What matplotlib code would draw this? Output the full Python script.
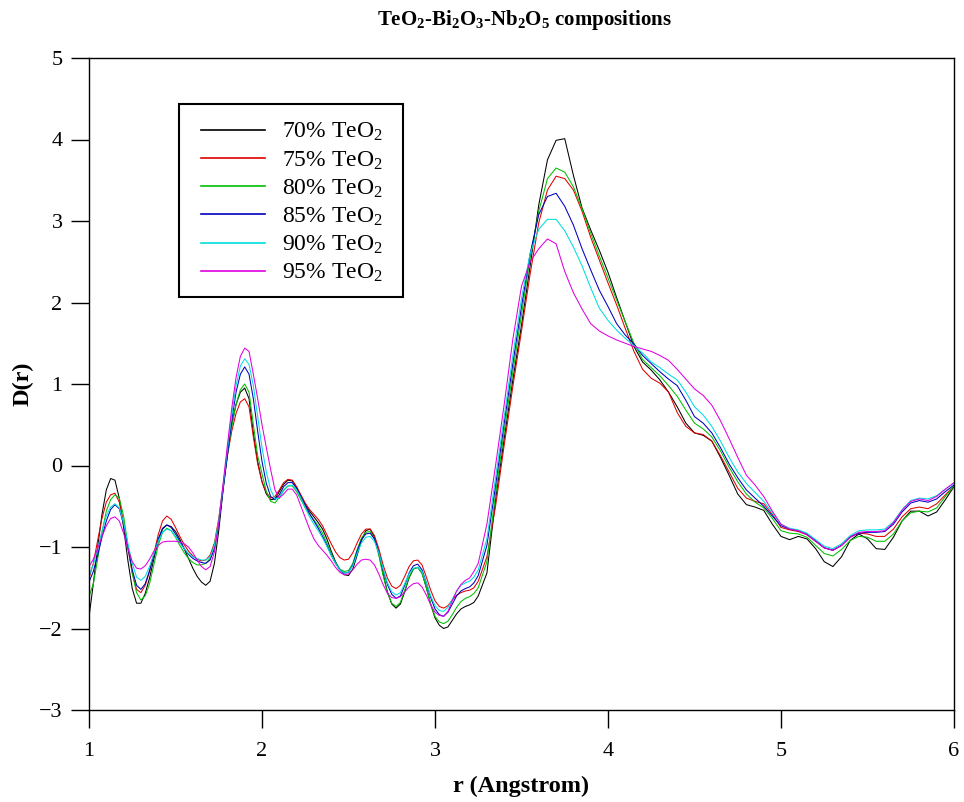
import numpy as np
import matplotlib
matplotlib.use("Agg")
import matplotlib.pyplot as plt
from matplotlib.patches import Rectangle

plt.rcParams['font.family'] = ['Liberation Serif', 'DejaVu Serif']
plt.rcParams['mathtext.fontset'] = 'custom'
plt.rcParams['mathtext.rm'] = 'Liberation Serif'
plt.rcParams['mathtext.bf'] = 'Liberation Serif:bold'
plt.rcParams['mathtext.default'] = 'regular'

# ---- data ----
r_fine = np.round(np.arange(1.0, 3.2501, 0.025), 3)     # 1.000 .. 3.250
r_coarse = np.round(np.arange(3.3, 6.0001, 0.05), 3)    # 3.30 .. 6.00
r = np.concatenate([r_fine, r_coarse])

labels = ['70% TeO$_2$', '75% TeO$_2$', '80% TeO$_2$',
          '85% TeO$_2$', '90% TeO$_2$', '95% TeO$_2$']
colors = ['#000000', '#e00000', '#00c000', '#0000c0', '#00dede', '#e000e0']

d70_a = [-1.86, -1.45, -1.0, -0.6, -0.3, -0.16, -0.18, -0.4, -0.76, -1.17,
         -1.51, -1.69, -1.69, -1.57, -1.38, -1.145, -0.93, -0.78, -0.73, -0.75,
         -0.81, -0.905, -1.02, -1.14, -1.26, -1.36, -1.43, -1.47, -1.42, -1.2,
         -0.8, -0.3, 0.15, 0.5, 0.75, 0.9, 0.95, 0.82, 0.4, 0.05,
         -0.2, -0.35, -0.42, -0.41, -0.32, -0.23, -0.18, -0.19, -0.27, -0.38,
         -0.48, -0.56, -0.63, -0.7, -0.78, -0.9, -1.05, -1.18, -1.28, -1.34,
         -1.35, -1.27, -1.1, -0.92, -0.8, -0.78, -0.88, -1.08, -1.33, -1.55,
         -1.7, -1.75, -1.7, -1.55, -1.38, -1.27, -1.25, -1.32, -1.5, -1.7,
         -1.87, -1.96, -2.0, -1.98, -1.9, -1.82, -1.76, -1.73, -1.71, -1.68,
         -1.6]
d70_b = [-1.32, -0.42, 0.33, 1.05, 1.72, 2.45, 3.2, 3.75, 3.99, 4.01,
         3.56, 3.16, 2.89, 2.64, 2.37, 2.06, 1.76, 1.46, 1.27, 1.17,
         1.05, 0.9, 0.72, 0.52, 0.4, 0.37, 0.3, 0.1, -0.12, -0.35,
         -0.48, -0.51, -0.55, -0.72, -0.87, -0.91, -0.87, -0.9, -1.02, -1.18,
         -1.24, -1.12, -0.92, -0.84, -0.9, -1.02, -1.03, -0.88, -0.68, -0.56,
         -0.56, -0.62, -0.57, -0.42, -0.26]

d75_a = [-1.38, -1.2, -0.92, -0.65, -0.45, -0.36, -0.34, -0.45, -0.7, -1.02,
         -1.32, -1.52, -1.56, -1.47, -1.3, -1.08, -0.85, -0.68, -0.62, -0.66,
         -0.76, -0.87, -0.97, -1.05, -1.11, -1.15, -1.17, -1.16, -1.1, -0.95,
         -0.65, -0.25, 0.12, 0.42, 0.64, 0.78, 0.82, 0.72, 0.35, 0.02,
         -0.2, -0.33, -0.4, -0.38, -0.3, -0.21, -0.17, -0.18, -0.26, -0.36,
         -0.46, -0.54, -0.6, -0.66, -0.74, -0.85, -0.96, -1.06, -1.13, -1.16,
         -1.15, -1.07, -0.95, -0.84, -0.78, -0.78, -0.86, -1.02, -1.22, -1.38,
         -1.48, -1.51, -1.47, -1.36, -1.24, -1.17, -1.16, -1.22, -1.37, -1.53,
         -1.66, -1.73, -1.75, -1.72, -1.65, -1.59, -1.56, -1.54, -1.53, -1.5,
         -1.42]
d75_b = [-1.12, -0.5, 0.25, 0.97, 1.65, 2.35, 2.98, 3.38, 3.55, 3.52,
         3.38, 3.12, 2.8, 2.52, 2.24, 1.97, 1.68, 1.4, 1.18, 1.07,
         1.01, 0.9, 0.65, 0.48, 0.4, 0.38, 0.3, 0.12, -0.08, -0.28,
         -0.4, -0.44, -0.47, -0.6, -0.76, -0.79, -0.81, -0.85, -0.93, -1.01,
         -1.04, -0.98, -0.87, -0.83, -0.84, -0.87, -0.87, -0.78, -0.63, -0.53,
         -0.51, -0.53, -0.47, -0.36, -0.25]

d80_a = [-1.61, -1.45, -1.15, -0.82, -0.56, -0.42, -0.36, -0.4, -0.62, -0.98,
         -1.32, -1.56, -1.65, -1.6, -1.45, -1.22, -0.98, -0.82, -0.77, -0.8,
         -0.88, -0.98, -1.07, -1.14, -1.19, -1.22, -1.22, -1.2, -1.14, -0.98,
         -0.68, -0.27, 0.12, 0.48, 0.75, 0.93, 1.0, 0.9, 0.5, 0.12,
         -0.1, -0.32, -0.44, -0.46, -0.39, -0.3, -0.25, -0.25, -0.32, -0.42,
         -0.52, -0.6, -0.67, -0.74, -0.83, -0.95, -1.08, -1.19, -1.27, -1.3,
         -1.29, -1.2, -1.03, -0.89, -0.82, -0.81, -0.9, -1.1, -1.35, -1.56,
         -1.69, -1.73, -1.68, -1.53, -1.37, -1.27, -1.25, -1.32, -1.5, -1.7,
         -1.85, -1.92, -1.94, -1.91, -1.83, -1.74, -1.67, -1.63, -1.61, -1.57,
         -1.5]
d80_b = [-1.18, -0.35, 0.42, 1.15, 1.85, 2.55, 3.12, 3.52, 3.65, 3.6,
         3.42, 3.15, 2.85, 2.57, 2.3, 2.03, 1.76, 1.5, 1.3, 1.2,
         1.1, 0.98, 0.85, 0.68, 0.52, 0.45, 0.35, 0.18, -0.02, -0.2,
         -0.35, -0.45, -0.52, -0.65, -0.8, -0.83, -0.84, -0.88, -0.98, -1.08,
         -1.11, -1.03, -0.92, -0.87, -0.88, -0.93, -0.93, -0.84, -0.68, -0.58,
         -0.56, -0.57, -0.52, -0.38, -0.25]

d85_a = [-1.43, -1.3, -1.1, -0.88, -0.68, -0.54, -0.48, -0.53, -0.72, -1.0,
         -1.28, -1.47, -1.52, -1.45, -1.29, -1.1, -0.9, -0.77, -0.73, -0.76,
         -0.84, -0.93, -1.02, -1.09, -1.14, -1.17, -1.19, -1.2, -1.16, -1.02,
         -0.72, -0.3, 0.12, 0.55, 0.9, 1.12, 1.21, 1.12, 0.82, 0.42,
         0.05, -0.22, -0.38, -0.42, -0.36, -0.26, -0.21, -0.21, -0.28, -0.38,
         -0.49, -0.59, -0.68, -0.77, -0.87, -0.98, -1.1, -1.2, -1.28, -1.32,
         -1.31, -1.22, -1.05, -0.91, -0.84, -0.83, -0.9, -1.06, -1.28, -1.46,
         -1.58, -1.63, -1.6, -1.47, -1.32, -1.23, -1.21, -1.28, -1.44, -1.62,
         -1.76, -1.83, -1.85, -1.8, -1.7, -1.6, -1.54, -1.51, -1.49, -1.44,
         -1.35]
d85_b = [-0.98, -0.25, 0.52, 1.25, 1.95, 2.6, 3.08, 3.3, 3.34, 3.18,
         2.95, 2.66, 2.4, 2.15, 1.95, 1.74, 1.6, 1.49, 1.35, 1.25,
         1.15, 1.06, 0.98, 0.8, 0.6, 0.52, 0.4, 0.22, 0.02, -0.15,
         -0.3, -0.4, -0.5, -0.62, -0.74, -0.78, -0.8, -0.84, -0.92, -1.01,
         -1.04, -0.98, -0.88, -0.83, -0.82, -0.82, -0.81, -0.72, -0.57, -0.46,
         -0.43, -0.45, -0.41, -0.32, -0.24]

d90_a = [-1.35, -1.22, -1.02, -0.8, -0.62, -0.51, -0.47, -0.52, -0.7, -0.96,
         -1.2, -1.37, -1.41, -1.36, -1.24, -1.08, -0.93, -0.82, -0.78, -0.8,
         -0.87, -0.95, -1.02, -1.08, -1.12, -1.14, -1.16, -1.16, -1.12, -0.98,
         -0.68, -0.25, 0.2, 0.62, 0.98, 1.22, 1.31, 1.24, 0.98, 0.6,
         0.22, -0.08, -0.3, -0.41, -0.4, -0.31, -0.25, -0.24, -0.3, -0.4,
         -0.52, -0.63, -0.72, -0.8, -0.89, -0.99, -1.1, -1.2, -1.28, -1.32,
         -1.31, -1.23, -1.08, -0.95, -0.88, -0.87, -0.93, -1.07, -1.27, -1.44,
         -1.55, -1.59, -1.56, -1.45, -1.33, -1.26, -1.25, -1.3, -1.44, -1.6,
         -1.72, -1.78, -1.79, -1.74, -1.64, -1.54, -1.47, -1.44, -1.42, -1.37,
         -1.28]
d90_b = [-0.9, -0.15, 0.6, 1.35, 2.05, 2.6, 2.9, 3.02, 3.02, 2.88,
         2.68, 2.45, 2.18, 1.93, 1.78, 1.66, 1.56, 1.47, 1.38, 1.27,
         1.2, 1.12, 1.05, 0.9, 0.72, 0.62, 0.48, 0.3, 0.1, -0.08,
         -0.22, -0.33, -0.44, -0.58, -0.72, -0.77, -0.79, -0.83, -0.91, -0.99,
         -1.02, -0.96, -0.86, -0.8, -0.79, -0.79, -0.78, -0.69, -0.54, -0.43,
         -0.4, -0.41, -0.37, -0.29, -0.22]

d95_a = [-1.24, -1.15, -1.02, -0.87, -0.74, -0.65, -0.63, -0.68, -0.83, -1.02,
         -1.18, -1.26, -1.27, -1.23, -1.15, -1.05, -0.98, -0.94, -0.93, -0.93,
         -0.93, -0.94, -0.96, -1.0, -1.07, -1.16, -1.24, -1.28, -1.24, -1.06,
         -0.7, -0.22, 0.25, 0.7, 1.08, 1.34, 1.44, 1.4, 1.12, 0.82,
         0.5, 0.22, -0.05, -0.3, -0.4, -0.35, -0.29, -0.29, -0.36, -0.5,
         -0.64, -0.78, -0.9, -0.98, -1.04, -1.1, -1.17, -1.25, -1.31, -1.34,
         -1.33, -1.28, -1.21, -1.16, -1.15, -1.16, -1.22, -1.33, -1.46, -1.57,
         -1.62, -1.63, -1.61, -1.55, -1.49, -1.45, -1.44, -1.49, -1.59, -1.71,
         -1.8, -1.84, -1.85, -1.79, -1.66, -1.54, -1.46, -1.41, -1.38, -1.3,
         -1.2]
d95_b = [-0.72, 0.0, 0.75, 1.55, 2.2, 2.5, 2.66, 2.78, 2.72, 2.38,
         2.12, 1.92, 1.74, 1.65, 1.59, 1.54, 1.5, 1.46, 1.43, 1.4,
         1.35, 1.29, 1.18, 1.06, 0.94, 0.86, 0.74, 0.55, 0.33, 0.1,
         -0.12, -0.24, -0.38, -0.56, -0.72, -0.78, -0.8, -0.85, -0.93, -1.01,
         -1.04, -0.98, -0.88, -0.82, -0.81, -0.81, -0.8, -0.7, -0.55, -0.44,
         -0.41, -0.43, -0.38, -0.29, -0.21]

series = [d70_a + d70_b, d75_a + d75_b, d80_a + d80_b,
          d85_a + d85_b, d90_a + d90_b, d95_a + d95_b]
for s in series:
    assert len(s) == len(r), (len(s), len(r))

# ---- figure ----
W, H = 964, 802
L, R, T, B = 89, 954, 58, 710
fig = plt.figure(figsize=(W / 100, H / 100), dpi=100)
ax = fig.add_axes([L / W, 1 - B / H, (R - L) / W, (B - T) / H])

def ax_x(px):
    return (px - L) / (R - L)

def ax_y(py):
    return (B - py) / (B - T)

for y, c, lab in zip(series, colors, labels):
    ax.plot(r, y, color=c, lw=0.75, label=lab)

ax.set_xlim(1, 6)
ax.set_ylim(-3, 5)
ax.set_xticks([1, 2, 3, 4, 5, 6])
ax.set_yticks([-3, -2, -1, 0, 1, 2, 3, 4, 5])
ax.tick_params(axis='both', which='major', direction='out', length=13, width=1.0,
               labelsize=16, top=False, right=False)
ax.tick_params(axis='x', pad=10)
ax.tick_params(axis='y', pad=6)
for sp in ax.spines.values():
    sp.set_linewidth(1.0)

ax.set_xlabel('r (Angstrom)', fontsize=17.5, fontweight='bold', labelpad=10.5)
ax.set_ylabel('D(r)', fontsize=17.5, fontweight='bold', labelpad=4)
fig.text(524 / W, 1 - 20 / H, 'TeO$_2$-Bi$_2$O$_3$-Nb$_2$O$_5$ compositions',
         ha='center', va='center', fontsize=15, fontweight='bold')

# legend: frame drawn as box, entries placed inside
ax.add_patch(Rectangle((ax_x(179), ax_y(297)), ax_x(403) - ax_x(179),
                       ax_y(104) - ax_y(297), transform=ax.transAxes,
                       fill=True, facecolor='white', edgecolor='black',
                       linewidth=1.5, zorder=4, clip_on=False))
leg = ax.legend(loc='upper left', bbox_to_anchor=(ax_x(201), ax_y(121)),
                borderaxespad=0, borderpad=0, fontsize=17, frameon=False,
                handlelength=2.7, handletextpad=0.72, labelspacing=0.25)
leg.set_zorder(5)
for lh in leg.get_lines():
    lh.set_linewidth(1.2)

fig.savefig('out.png', dpi=100)
